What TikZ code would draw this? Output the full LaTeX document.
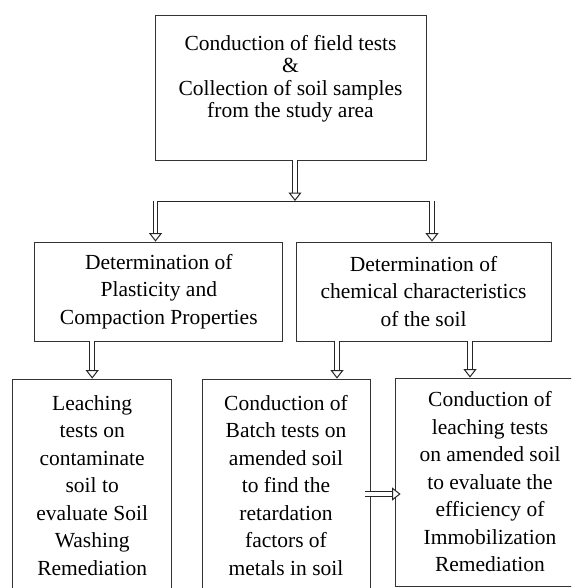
\documentclass[tikz,border=0pt]{standalone}
\usepackage{fontspec}
\setmainfont{Liberation Serif}
\usetikzlibrary{arrows.meta}

\begin{document}
\begin{tikzpicture}[x=1pt, y=-1pt]

        % Styles
        \tikzset{
            box/.style={draw=black!80, line width=0.8pt, align=center, inner sep=0pt, font=\fontsize{21.5}{27.5}\selectfont},
            topbox/.style={box, font=\fontsize{21.5}{22.5}\selectfont},
            dbl/.style={draw=black!85, line width=1pt, double=white, double distance=3.6pt, -{Triangle[fill=white, length=8.5pt, width=13pt, line width=1pt]}},
            tie/.style={line width=0.8pt, draw=black!85}
        }

        \useasboundingbox (0,0) rectangle (571,588);
        \clip (0,0) rectangle (571,588);

        % --- top ---
        \node[topbox, minimum width=271, minimum height=145] (field) at (290.5, 87.5) {Conduction of field tests\\\&\\Collection of soil samples\\from the study area\\ \mbox{}};

        % --- middle row ---
        \node[box, minimum width=248, minimum height=99] (plast) at (158.8, 291.5) {Determination of\\Plasticity and\\Compaction Properties};
        \node[box, minimum width=255, minimum height=99] (chem) at (423.5, 291.5) {Determination of\\chemical characteristics\\of the soil};

        % --- bottom row ---
        \node[box, minimum width=159, minimum height=213] (leach) at (92.2, 485.5) {Leaching\\tests on\\contaminate\\soil to\\evaluate Soil\\Washing\\Remediation};
        \node[box, minimum width=168, minimum height=213] (batch) at (286, 485.5) {Conduction of\\Batch tests on\\amended soil\\to find the\\retardation\\factors of\\metals in soil};
        \node[box, minimum width=190, minimum height=208] (immob) at (490, 482) {Conduction of\\leaching tests\\on amended soil\\to evaluate the\\efficiency of\\Immobilization\\Remediation};

        % --- branching ---
        \coordinate (split) at (295, 201);
        \coordinate (brL) at (155.5, 201);
        \coordinate (brR) at (432, 201);
        \draw[dbl] (split |- field.south) -- (split);
        \draw[tie] (brL) -- (brR);
        \draw[dbl] (brL) -- (brL |- plast.north);
        \draw[dbl] (brR) -- (brR |- chem.north);

        % --- to bottom row ---
        \draw[dbl] (leach.north |- plast.south) -- (leach.north);
        \draw[dbl] ([xshift=51pt]batch.north |- chem.south) -- ([xshift=51pt]batch.north);
        \draw[dbl] ([xshift=-20pt]immob.north |- chem.south) -- ([xshift=-20pt]immob.north);
        \draw[dbl] ([xshift=-5pt, yshift=-8.5pt]batch.east) -- ([xshift=6pt, yshift=-12pt]immob.west);

\end{tikzpicture}
\end{document}
